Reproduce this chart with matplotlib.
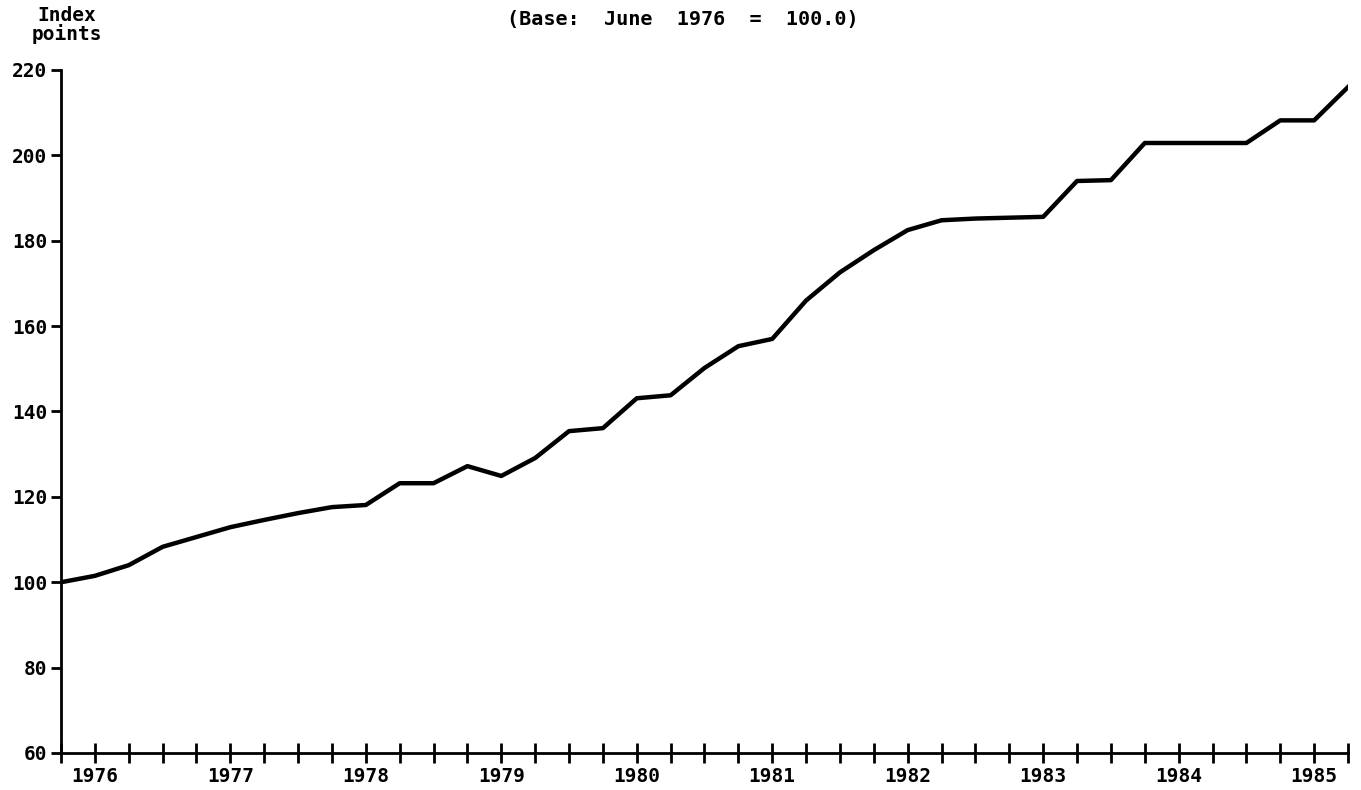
import matplotlib
matplotlib.use("Agg")
import matplotlib.pyplot as plt

# Quarterly index values, June 1976 .. December 1985 (Base: June 1976 = 100.0)
quarter_index = list(range(39))
index_values = [100.0, 101.5, 104.0, 108.3, 110.6, 112.9, 114.6, 116.2, 117.6, 118.1,
                123.2, 123.2, 127.2, 124.9, 129.1, 135.4, 136.1, 143.1, 143.8, 150.2,
                155.3, 157.0, 166.0, 172.6, 177.8, 182.5, 184.8, 185.2, 185.4, 185.6,
                194.0, 194.2, 202.9, 202.9, 202.9, 202.9, 208.2, 208.2, 216.0]
year_labels = ["1976", "1977", "1978", "1979", "1980", "1981", "1982", "1983", "1984", "1985"]
year_label_positions = [1, 5, 9, 13, 17, 21, 25, 29, 33, 37]
y_ticks = [60, 80, 100, 120, 140, 160, 180, 200, 220]

FONT = "DejaVu Sans Mono"
fig = plt.figure(figsize=(13.61, 7.90), dpi=100)
ax = fig.add_axes([61 / 1361, 1 - 753 / 790, (1348 - 61) / 1361, (753 - 70) / 790])

ax.plot(quarter_index, index_values, color="black", linewidth=3.2, solid_joinstyle="round")

ax.set_xlim(0, 38)
ax.set_ylim(60, 220)
for s in ["top", "right"]:
    ax.spines[s].set_visible(False)
for s in ["left", "bottom"]:
    ax.spines[s].set_linewidth(2.0)

ax.set_yticks(y_ticks)
ax.set_yticklabels([str(v) for v in y_ticks], fontfamily=FONT, fontweight="bold", fontsize=14)
ax.tick_params(axis="y", direction="out", length=7, width=2, pad=3)

ax.set_xticks(quarter_index)
labels = [""] * len(quarter_index)
for p, l in zip(year_label_positions, year_labels):
    labels[p] = l
ax.set_xticklabels(labels, fontfamily=FONT, fontweight="bold", fontsize=14)
ax.tick_params(axis="x", direction="inout", length=14, width=2, pad=3)

fig.text(67 / 1361, 1 - 6 / 790, "Index\npoints", ha="center", va="top",
         fontfamily=FONT, fontweight="bold", fontsize=14, linespacing=0.95)
fig.text(683 / 1361, 1 - 19 / 790, "(Base:  June  1976  =  100.0)", ha="center", va="center",
         fontfamily=FONT, fontweight="bold", fontsize=14.5)

fig.savefig("out.png", dpi=100, facecolor="white")
